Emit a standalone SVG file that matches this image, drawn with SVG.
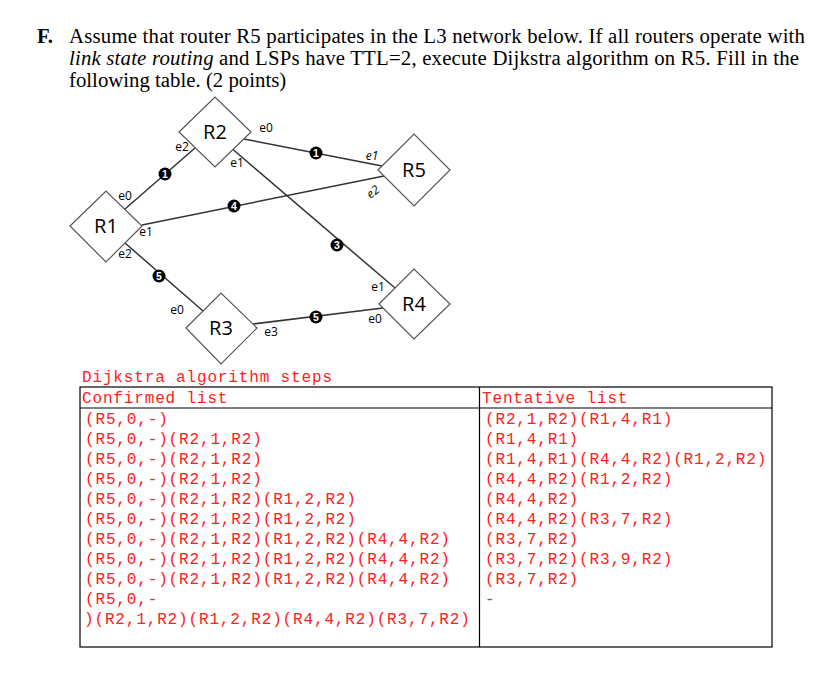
<svg xmlns="http://www.w3.org/2000/svg" width="824" height="697" viewBox="0 0 824 697">
<style>
.title{font-family:"Liberation Serif",serif;font-size:20.8px;fill:#000}
.node{fill:#fff;stroke:#555;stroke-width:1.2}
.rl{font-family:"Open Sans","Liberation Sans",sans-serif;font-size:20px;fill:#000;text-anchor:middle}
.pl{font-family:"Open Sans","Liberation Sans",sans-serif;font-size:12px;fill:#000;text-anchor:middle}
.edge{stroke:#333;stroke-width:1.5;fill:none}
.bd{fill:#000}
.bt{font-family:"Liberation Sans",sans-serif;font-size:10.5px;font-weight:bold;fill:#fff;text-anchor:middle}
.mono{font-family:"Liberation Mono","Courier New",monospace;font-size:16px;letter-spacing:0.85px;fill:#ff2020}
.tb{fill:none;stroke:#000;stroke-width:1.2}
</style>
<rect width="824" height="697" fill="#fff"/>
<g id="question">
<text class="title" x="37" y="43" font-weight="bold">F.</text>
<text class="title" x="69" y="43" textLength="736" lengthAdjust="spacing">Assume that router R5 participates in the L3 network below. If all routers operate with</text>
<text class="title" x="69" y="65" textLength="730" lengthAdjust="spacing"><tspan font-style="italic">link state routing</tspan> and LSPs have TTL=2, execute Dijkstra algorithm on R5. Fill in the</text>
<text class="title" x="69" y="87">following table. (2 points)</text>
</g>
<g id="connectors">
<line class="edge" x1="125" y1="209" x2="195" y2="148"/>
<line class="edge" x1="142" y1="225" x2="384" y2="176"/>
<line class="edge" x1="244" y1="139" x2="382" y2="166"/>
<line class="edge" x1="233" y1="149.5" x2="395" y2="288"/>
<line class="edge" x1="125" y1="243" x2="203" y2="311"/>
<line class="edge" x1="253" y1="324" x2="383" y2="308"/>
<g id="b1"><circle class="bd" cx="165" cy="174" r="6.5"/><text class="bt" x="165" y="177.8">1</text></g>
<g id="b2"><circle class="bd" cx="234" cy="206" r="6.5"/><text class="bt" x="234" y="209.8">4</text></g>
<g id="b3"><circle class="bd" cx="316" cy="153" r="6.5"/><text class="bt" x="316" y="156.8">1</text></g>
<g id="b4"><circle class="bd" cx="337" cy="245" r="6.5"/><text class="bt" x="337" y="248.8">3</text></g>
<g id="b5"><circle class="bd" cx="159" cy="276" r="6.5"/><text class="bt" x="159" y="279.8">5</text></g>
<g id="b6"><circle class="bd" cx="316" cy="317" r="6.5"/><text class="bt" x="316" y="320.8">5</text></g>
</g>
<g id="R1">
<polygon class="node" points="70,226 106,191 142,226 106,262"/>
<text class="rl" x="106" y="233">R1</text>
<text class="pl" x="125" y="200">e0</text>
<text class="pl" x="146" y="236">e1</text>
<text class="pl" x="125" y="258">e2</text>
</g>
<g id="R2">
<polygon class="node" points="179,132 215,97 251,132 215,167"/>
<text class="rl" x="215" y="139">R2</text>
<text class="pl" x="266" y="132">e0</text>
<text class="pl" x="237" y="167">e1</text>
<text class="pl" x="182" y="151">e2</text>
</g>
<g id="R3">
<polygon class="node" points="186,328 221,293 257,328 221,364"/>
<text class="rl" x="221" y="335">R3</text>
<text class="pl" x="177" y="314">e0</text>
<text class="pl" x="271" y="336">e3</text>
</g>
<g id="R4">
<polygon class="node" points="379,304 414,269 450,304 414,339"/>
<text class="rl" x="414" y="311">R4</text>
<text class="pl" x="375" y="323">e0</text>
<text class="pl" x="378" y="291">e1</text>
</g>
<g id="R5">
<polygon class="node" points="378,170 414,134 450,170 414,206"/>
<text class="rl" x="414" y="177">R5</text>
<text class="pl" x="372" y="160" font-style="italic">e1</text>
<text class="pl" x="373" y="196" font-style="italic" transform="rotate(-38 373 192)">e2</text>
</g>
<g id="table">
<text class="mono" x="82" y="382">Dijkstra algorithm steps</text>
<rect class="tb" x="80" y="387" width="692" height="260"/>
<line class="tb" x1="80" y1="408" x2="772" y2="408"/>
<line class="tb" x1="479.5" y1="387" x2="479.5" y2="647"/>
<text class="mono" x="82" y="403">Confirmed list</text>
<text class="mono" x="482" y="403">Tentative list</text>
<text class="mono" x="85" y="424">(R5,0,-)</text>
<text class="mono" x="85" y="444">(R5,0,-)(R2,1,R2)</text>
<text class="mono" x="85" y="464">(R5,0,-)(R2,1,R2)</text>
<text class="mono" x="85" y="484">(R5,0,-)(R2,1,R2)</text>
<text class="mono" x="85" y="504">(R5,0,-)(R2,1,R2)(R1,2,R2)</text>
<text class="mono" x="85" y="524">(R5,0,-)(R2,1,R2)(R1,2,R2)</text>
<text class="mono" x="85" y="544">(R5,0,-)(R2,1,R2)(R1,2,R2)(R4,4,R2)</text>
<text class="mono" x="85" y="564">(R5,0,-)(R2,1,R2)(R1,2,R2)(R4,4,R2)</text>
<text class="mono" x="85" y="584">(R5,0,-)(R2,1,R2)(R1,2,R2)(R4,4,R2)</text>
<text class="mono" x="85" y="604">(R5,0,-</text>
<text class="mono" x="84" y="624">)(R2,1,R2)(R1,2,R2)(R4,4,R2)(R3,7,R2)</text>
<text class="mono" x="485" y="424">(R2,1,R2)(R1,4,R1)</text>
<text class="mono" x="485" y="444">(R1,4,R1)</text>
<text class="mono" x="485" y="464">(R1,4,R1)(R4,4,R2)(R1,2,R2)</text>
<text class="mono" x="485" y="484">(R4,4,R2)(R1,2,R2)</text>
<text class="mono" x="485" y="504">(R4,4,R2)</text>
<text class="mono" x="485" y="524">(R4,4,R2)(R3,7,R2)</text>
<text class="mono" x="485" y="544">(R3,7,R2)</text>
<text class="mono" x="485" y="564">(R3,7,R2)(R3,9,R2)</text>
<text class="mono" x="485" y="584">(R3,7,R2)</text>
<text class="mono" x="485" y="604">-</text>
</g>
</svg>
